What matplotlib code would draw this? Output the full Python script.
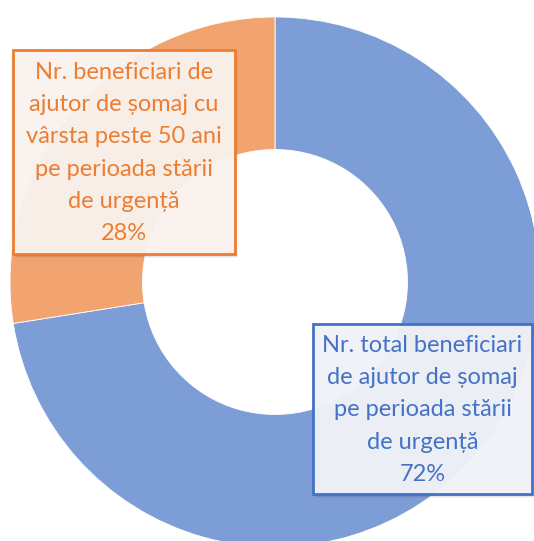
import matplotlib
matplotlib.use("Agg")
import matplotlib.pyplot as plt
from matplotlib.patches import Rectangle

# ---- data ----
categories = [
    "Nr. total beneficiari\nde ajutor de șomaj\npe perioada stării\nde urgență",
    "Nr. beneficiari de\najutor de șomaj cu\nvârsta peste 50 ani\npe perioada stării\nde urgență",
]
shares = [72.5, 27.5]
pct_labels = ["72%", "28%"]
slice_colors = ["#7C9DD6", "#F1A46F"]
text_colors = ["#4472C4", "#ED7D31"]

W, H = 534, 541
CX, CY, R = 275, 282, 265  # donut placement in pixels

fig = plt.figure(figsize=(W / 100, H / 100), dpi=100)
ax = fig.add_axes([0, 0, 1, 1])
ax.axis("off")

ax.pie(shares, colors=slice_colors, startangle=90, counterclock=False,
       radius=1.0, wedgeprops=dict(width=0.5, edgecolor="white", linewidth=0.6))
ax.set_aspect("auto")
ax.set_xlim(-CX / R, (W - CX) / R)
ax.set_ylim(-(H - CY) / R, CY / R)


def px(x, y):
    return (x - CX) / R, (CY - y) / R


def label_box(x0, y0, x1, y1, text, color, face):
    # soft shadow
    for i, a in enumerate([0.10, 0.07, 0.04]):
        sx, sy = px(x0 + 1 + i, y1 + 2 + i)
        ex, ey = px(x1 + 1 + i, y0 + 2 + i)
        ax.add_patch(Rectangle((sx, sy), ex - sx, ey - sy, facecolor="black",
                               alpha=a, edgecolor="none", zorder=3))
    bx, by = px(x0, y1)
    tx, ty = px(x1, y0)
    ax.add_patch(Rectangle((bx, by), tx - bx, ty - by, facecolor=face,
                           alpha=0.95, edgecolor="none", zorder=4))
    ax.add_patch(Rectangle((bx, by), tx - bx, ty - by, facecolor="none",
                           edgecolor=color, linewidth=2.0, zorder=5))
    cx, cy = px((x0 + x1) / 2, (y0 + y1) / 2 + 1)
    ax.text(cx, cy, text, ha="center", va="center", color=color,
            fontsize=17, family=["Lato", "DejaVu Sans"], linespacing=1.67,
            zorder=6)


label_box(313, 324, 532, 494, categories[0] + "\n" + pct_labels[0],
          text_colors[0], "#F3F5FA")
label_box(13, 50, 235, 254, categories[1] + "\n" + pct_labels[1],
          text_colors[1], "#FCF5F1")

fig.savefig("out.png", dpi=100)
